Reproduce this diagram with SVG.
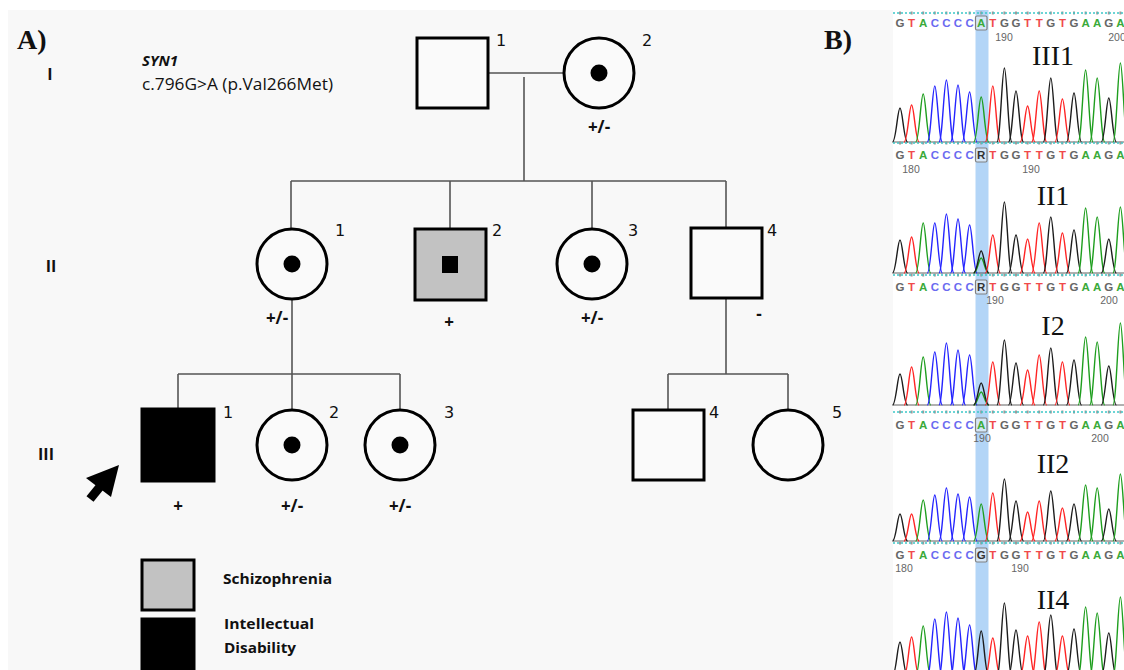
<svg xmlns="http://www.w3.org/2000/svg" xmlns:xlink="http://www.w3.org/1999/xlink" width="1124" height="670" viewBox="0 0 1124 670">
<style>
.sym{fill:#fafafa;stroke:#000;stroke-width:3}
.aff{fill:#000;stroke:#000;stroke-width:3}
.sch{fill:#c2c2c2;stroke:#000;stroke-width:3}
.ln{stroke:#555;stroke-width:1.6;fill:none}
.num{font-family:"DejaVu Sans",sans-serif;font-size:16px;fill:#111}
.gt{font-family:"Open Sans","Liberation Sans",sans-serif;font-weight:700;font-size:17px;fill:#111;text-anchor:middle}
.gen{font-family:"Open Sans","Liberation Sans",sans-serif;font-weight:700;font-size:16px;fill:#111;text-anchor:middle}
.leg{font-family:"Open Sans","Liberation Sans",sans-serif;font-weight:700;font-size:15px;fill:#111}
.pl{font-family:"Liberation Serif",serif;font-weight:700;font-size:28px;fill:#111}
.sl{font-family:"Liberation Serif",serif;font-size:28px;fill:#111;text-anchor:middle}
.seq{font-family:"Liberation Sans",sans-serif;font-weight:700;font-size:11.5px;text-anchor:middle}
.nb{font-family:"Liberation Sans",sans-serif;font-size:10.5px;fill:#666;text-anchor:middle}
.tk{fill:#666}.tr{fill:#f04a4a}.tg{fill:#3aaa3a}.tb{fill:#6a6af0}.tx{fill:#333}
use{fill:none;stroke-width:1.4}
.k{stroke:#1c1c1c}.r{stroke:#ff2424}.g{stroke:#1e9e1e}.b{stroke:#2424ff}
.cy{stroke:#3cc8c8;stroke-width:1.5;stroke-dasharray:2 2}
.tick{stroke:#9a9a9a;stroke-width:3;stroke-dasharray:2 9.6}
.bl{stroke:#222;stroke-width:1;opacity:.7}
.hb{fill:#d4e6f8;stroke:#808080;stroke-width:1.2}
</style>
<defs>
<path id="pk" d="M-7.5,0 C-4,0 -2.4,-1 0,-1 C2.4,-1 4,0 7.5,0" vector-effect="non-scaling-stroke"/>
</defs>
<rect x="0" y="0" width="1124" height="670" fill="#fff"/>
<rect x="8" y="10" width="885" height="660" fill="#f8f8f8"/>
<rect x="893" y="10" width="231" height="660" fill="#fff"/>

<!-- Panel A texts -->
<text class="pl" x="17" y="49">A)</text>
<text class="pl" x="824" y="49">B)</text>
<text x="142" y="66" font-family="'Open Sans','Liberation Sans',sans-serif" font-size="15" font-weight="700" font-style="italic" fill="#111">SYN1</text>
<text x="142" y="90" font-family="'Open Sans','Liberation Sans',sans-serif" font-size="15.5" fill="#111" textLength="191" lengthAdjust="spacingAndGlyphs">c.796G&gt;A (p.Val266Met)</text>
<text class="gen" x="50" y="80">I</text>
<text class="gen" x="51" y="272">II</text>
<text class="gen" x="46" y="460">III</text>

<!-- connectors -->
<g id="connectors" class="ln">
<line x1="488" y1="73" x2="564" y2="73"/>
<line x1="524" y1="77" x2="524" y2="181"/>
<line x1="291" y1="181" x2="726" y2="181"/>
<line x1="291" y1="181" x2="291" y2="229"/>
<line x1="450" y1="181" x2="450" y2="229"/>
<line x1="592" y1="181" x2="592" y2="229"/>
<line x1="726" y1="181" x2="726" y2="228"/>
<line x1="292" y1="300" x2="292" y2="374"/>
<line x1="178" y1="374" x2="400" y2="374"/>
<line x1="178" y1="374" x2="178" y2="409"/>
<line x1="292" y1="374" x2="292" y2="410"/>
<line x1="400" y1="374" x2="400" y2="410"/>
<line x1="726" y1="298" x2="726" y2="374"/>
<line x1="668" y1="374" x2="788" y2="374"/>
<line x1="668" y1="374" x2="668" y2="410"/>
<line x1="788" y1="374" x2="788" y2="410"/>
</g>

<!-- Generation I -->
<g id="I1"><rect class="sym" x="417" y="38" width="71" height="70"/><text class="num" x="496" y="46">1</text></g>
<g id="I2"><circle class="sym" cx="599" cy="73" r="35"/><circle cx="599" cy="73" r="8.5" fill="#000"/><text class="num" x="642" y="46">2</text><text class="gt" x="599" y="133">+/-</text></g>

<!-- Generation II -->
<g id="II1"><circle class="sym" cx="292" cy="264" r="35"/><circle cx="292" cy="264" r="8.5" fill="#000"/><text class="num" x="335" y="236">1</text><text class="gt" x="277" y="324">+/-</text></g>
<g id="II2"><rect class="sch" x="415" y="229" width="71" height="71"/><rect x="442" y="256" width="16" height="17" fill="#000"/><text class="num" x="492" y="236">2</text><text class="gt" x="449" y="328">+</text></g>
<g id="II3"><circle class="sym" cx="592" cy="264" r="35"/><circle cx="592" cy="264" r="8.5" fill="#000"/><text class="num" x="628" y="236">3</text><text class="gt" x="592" y="324">+/-</text></g>
<g id="II4"><rect class="sym" x="691" y="228" width="71" height="70"/><text class="num" x="767" y="236">4</text><text class="gt" x="759" y="320">-</text></g>

<!-- Generation III -->
<g id="III1"><rect class="aff" x="142" y="409" width="72" height="72"/><text class="num" x="223" y="418">1</text><text class="gt" x="178" y="512">+</text></g>
<g id="III2"><circle class="sym" cx="292" cy="445" r="35"/><circle cx="292" cy="445" r="8.5" fill="#000"/><text class="num" x="329" y="418">2</text><text class="gt" x="292" y="512">+/-</text></g>
<g id="III3"><circle class="sym" cx="400" cy="445" r="35"/><circle cx="400" cy="445" r="8.5" fill="#000"/><text class="num" x="444" y="418">3</text><text class="gt" x="400" y="512">+/-</text></g>
<g id="III4"><rect class="sym" x="633" y="410" width="71" height="70"/><text class="num" x="709" y="418">4</text></g>
<g id="III5"><circle class="sym" cx="788" cy="445" r="35"/><text class="num" x="832" y="418">5</text></g>

<!-- proband arrow -->
<g id="proband-arrow">
<line x1="90" y1="499" x2="103" y2="483" stroke="#000" stroke-width="9"/>
<polygon points="119,465 86,478 111,497" fill="#000"/>
</g>

<!-- legend -->
<g id="legend">
<rect class="sch" x="142" y="560" width="52" height="50"/>
<text class="leg" x="223" y="584" textLength="109" lengthAdjust="spacingAndGlyphs">Schizophrenia</text>
<rect class="aff" x="142" y="619" width="52" height="60"/>
<text class="leg" x="224" y="629" textLength="90" lengthAdjust="spacingAndGlyphs">Intellectual</text>
<text class="leg" x="224" y="653" textLength="72" lengthAdjust="spacingAndGlyphs">Disability</text>
</g>

<!-- Panel B chromatograms -->
<g id="chromatograms">
<rect x="975.5" y="10" width="13" height="660" fill="#b3d5f7"/>

<!-- row 1 III1 -->
<line class="tick" x1="899" y1="13" x2="1124" y2="13"/>
<line class="cy" x1="893" y1="13" x2="1124" y2="13"/>
<rect class="hb" x="975.5" y="16" width="11.5" height="14" rx="1.5"/>
<text class="seq" y="27" x="900 911.6 923.2 934.8 946.4 958 969.6 981.2 992.8 1004.4 1016 1027.6 1039.2 1050.8 1062.4 1074 1085.6 1097.2 1108.8 1120.4"><tspan class="tk">G</tspan><tspan class="tr">T</tspan><tspan class="tg">A</tspan><tspan class="tb">CCCC</tspan><tspan class="tg">A</tspan><tspan class="tr">T</tspan><tspan class="tk">GG</tspan><tspan class="tr">TT</tspan><tspan class="tk">G</tspan><tspan class="tr">T</tspan><tspan class="tk">G</tspan><tspan class="tg">AA</tspan><tspan class="tk">G</tspan><tspan class="tg">A</tspan></text>
<text class="nb" x="1004" y="41">190</text><text class="nb" x="1117" y="41">200</text>
<text class="sl" x="1053" y="65">III1</text>
<line class="bl" x1="893" y1="142" x2="1124" y2="142"/>
<use href="#pk" class="k" transform="translate(900 142) scale(1 34)"/>
<use href="#pk" class="r" transform="translate(911.6 142) scale(1 37)"/>
<use href="#pk" class="g" transform="translate(923.2 142) scale(1 48)"/>
<use href="#pk" class="b" transform="translate(934.8 142) scale(1 56)"/>
<use href="#pk" class="b" transform="translate(946.4 142) scale(1 62)"/>
<use href="#pk" class="b" transform="translate(958 142) scale(1 57)"/>
<use href="#pk" class="b" transform="translate(969.6 142) scale(1 50)"/>
<use href="#pk" class="g" transform="translate(981.2 142) scale(1 45)"/>
<use href="#pk" class="r" transform="translate(992.8 142) scale(1 56)"/>
<use href="#pk" class="k" transform="translate(1004.4 142) scale(1 74)"/>
<use href="#pk" class="k" transform="translate(1016 142) scale(1 51)"/>
<use href="#pk" class="r" transform="translate(1027.6 142) scale(1 36)"/>
<use href="#pk" class="r" transform="translate(1039.2 142) scale(1 51)"/>
<use href="#pk" class="k" transform="translate(1050.8 142) scale(1 64)"/>
<use href="#pk" class="r" transform="translate(1062.4 142) scale(1 43)"/>
<use href="#pk" class="k" transform="translate(1074 142) scale(1 49)"/>
<use href="#pk" class="g" transform="translate(1085.6 142) scale(1 72)"/>
<use href="#pk" class="g" transform="translate(1097.2 142) scale(1 64)"/>
<use href="#pk" class="k" transform="translate(1108.8 142) scale(1 44)"/>
<use href="#pk" class="g" transform="translate(1120.4 142) scale(1 79)"/>

<!-- row 2 II1 -->
<line class="tick" x1="899" y1="143" x2="1124" y2="143"/>
<line class="cy" x1="893" y1="143" x2="1124" y2="143"/>
<rect class="hb" x="975.5" y="148" width="11.5" height="14" rx="1.5"/>
<text class="seq" y="159" x="900 911.6 923.2 934.8 946.4 958 969.6 981.2 992.8 1004.4 1016 1027.6 1039.2 1050.8 1062.4 1074 1085.6 1097.2 1108.8 1120.4"><tspan class="tk">G</tspan><tspan class="tr">T</tspan><tspan class="tg">A</tspan><tspan class="tb">CCCC</tspan><tspan class="tx">R</tspan><tspan class="tr">T</tspan><tspan class="tk">GG</tspan><tspan class="tr">TT</tspan><tspan class="tk">G</tspan><tspan class="tr">T</tspan><tspan class="tk">G</tspan><tspan class="tg">AA</tspan><tspan class="tk">G</tspan><tspan class="tg">A</tspan></text>
<text class="nb" x="911" y="173">180</text><text class="nb" x="1031" y="173">190</text>
<text class="sl" x="1053" y="205">II1</text>
<line class="bl" x1="893" y1="273" x2="1124" y2="273"/>
<use href="#pk" class="k" transform="translate(900 273) scale(1 33)"/>
<use href="#pk" class="r" transform="translate(911.6 273) scale(1 36)"/>
<use href="#pk" class="g" transform="translate(923.2 273) scale(1 50)"/>
<use href="#pk" class="b" transform="translate(934.8 273) scale(1 50)"/>
<use href="#pk" class="b" transform="translate(946.4 273) scale(1 59)"/>
<use href="#pk" class="b" transform="translate(958 273) scale(1 54)"/>
<use href="#pk" class="b" transform="translate(969.6 273) scale(1 48)"/>
<use href="#pk" class="g" transform="translate(981.2 273) scale(1 15)"/>
<use href="#pk" class="k" transform="translate(981.2 273) scale(1 22)"/>
<use href="#pk" class="r" transform="translate(992.8 273) scale(1 38)"/>
<use href="#pk" class="k" transform="translate(1004.4 273) scale(1 71)"/>
<use href="#pk" class="k" transform="translate(1016 273) scale(1 38)"/>
<use href="#pk" class="r" transform="translate(1027.6 273) scale(1 34)"/>
<use href="#pk" class="r" transform="translate(1039.2 273) scale(1 50)"/>
<use href="#pk" class="k" transform="translate(1050.8 273) scale(1 56)"/>
<use href="#pk" class="r" transform="translate(1062.4 273) scale(1 40)"/>
<use href="#pk" class="k" transform="translate(1074 273) scale(1 43)"/>
<use href="#pk" class="g" transform="translate(1085.6 273) scale(1 65)"/>
<use href="#pk" class="g" transform="translate(1097.2 273) scale(1 56)"/>
<use href="#pk" class="k" transform="translate(1108.8 273) scale(1 34)"/>
<use href="#pk" class="g" transform="translate(1120.4 273) scale(1 66)"/>

<!-- row 3 I2 -->
<line class="tick" x1="899" y1="275" x2="1124" y2="275"/>
<line class="cy" x1="893" y1="275" x2="1124" y2="275"/>
<rect class="hb" x="975.5" y="280" width="11.5" height="14" rx="1.5"/>
<text class="seq" y="291" x="900 911.6 923.2 934.8 946.4 958 969.6 981.2 992.8 1004.4 1016 1027.6 1039.2 1050.8 1062.4 1074 1085.6 1097.2 1108.8 1120.4"><tspan class="tk">G</tspan><tspan class="tr">T</tspan><tspan class="tg">A</tspan><tspan class="tb">CCCC</tspan><tspan class="tx">R</tspan><tspan class="tr">T</tspan><tspan class="tk">GG</tspan><tspan class="tr">TT</tspan><tspan class="tk">G</tspan><tspan class="tr">T</tspan><tspan class="tk">G</tspan><tspan class="tg">AA</tspan><tspan class="tk">G</tspan><tspan class="tg">A</tspan></text>
<text class="nb" x="995" y="304">190</text><text class="nb" x="1109" y="304">200</text>
<text class="sl" x="1053" y="335">I2</text>
<line class="bl" x1="893" y1="405" x2="1124" y2="405"/>
<use href="#pk" class="k" transform="translate(900 405) scale(1 31)"/>
<use href="#pk" class="r" transform="translate(911.6 405) scale(1 38)"/>
<use href="#pk" class="g" transform="translate(923.2 405) scale(1 48)"/>
<use href="#pk" class="b" transform="translate(934.8 405) scale(1 53)"/>
<use href="#pk" class="b" transform="translate(946.4 405) scale(1 62)"/>
<use href="#pk" class="b" transform="translate(958 405) scale(1 55)"/>
<use href="#pk" class="b" transform="translate(969.6 405) scale(1 50)"/>
<use href="#pk" class="g" transform="translate(981.2 405) scale(1 13)"/>
<use href="#pk" class="k" transform="translate(981.2 405) scale(1 22)"/>
<use href="#pk" class="r" transform="translate(992.8 405) scale(1 43)"/>
<use href="#pk" class="k" transform="translate(1004.4 405) scale(1 65)"/>
<use href="#pk" class="k" transform="translate(1016 405) scale(1 42)"/>
<use href="#pk" class="r" transform="translate(1027.6 405) scale(1 35)"/>
<use href="#pk" class="r" transform="translate(1039.2 405) scale(1 50)"/>
<use href="#pk" class="k" transform="translate(1050.8 405) scale(1 57)"/>
<use href="#pk" class="r" transform="translate(1062.4 405) scale(1 43)"/>
<use href="#pk" class="k" transform="translate(1074 405) scale(1 45)"/>
<use href="#pk" class="g" transform="translate(1085.6 405) scale(1 68)"/>
<use href="#pk" class="g" transform="translate(1097.2 405) scale(1 63)"/>
<use href="#pk" class="k" transform="translate(1108.8 405) scale(1 39)"/>
<use href="#pk" class="g" transform="translate(1120.4 405) scale(1 82)"/>

<!-- row 4 II2 -->
<line class="tick" x1="899" y1="412" x2="1124" y2="412"/>
<line class="cy" x1="893" y1="412" x2="1124" y2="412"/>
<rect class="hb" x="975.5" y="418" width="11.5" height="14" rx="1.5"/>
<text class="seq" y="429" x="900 911.6 923.2 934.8 946.4 958 969.6 981.2 992.8 1004.4 1016 1027.6 1039.2 1050.8 1062.4 1074 1085.6 1097.2 1108.8 1120.4"><tspan class="tk">G</tspan><tspan class="tr">T</tspan><tspan class="tg">A</tspan><tspan class="tb">CCCC</tspan><tspan class="tg">A</tspan><tspan class="tr">T</tspan><tspan class="tk">GG</tspan><tspan class="tr">TT</tspan><tspan class="tk">G</tspan><tspan class="tr">T</tspan><tspan class="tk">G</tspan><tspan class="tg">AA</tspan><tspan class="tk">G</tspan><tspan class="tg">A</tspan></text>
<text class="nb" x="982" y="442">190</text><text class="nb" x="1100" y="442">200</text>
<text class="sl" x="1053" y="473">II2</text>
<line class="bl" x1="893" y1="541" x2="1124" y2="541"/>
<use href="#pk" class="k" transform="translate(900 541) scale(1 27)"/>
<use href="#pk" class="r" transform="translate(911.6 541) scale(1 27)"/>
<use href="#pk" class="g" transform="translate(923.2 541) scale(1 41)"/>
<use href="#pk" class="b" transform="translate(934.8 541) scale(1 46)"/>
<use href="#pk" class="b" transform="translate(946.4 541) scale(1 53)"/>
<use href="#pk" class="b" transform="translate(958 541) scale(1 47)"/>
<use href="#pk" class="b" transform="translate(969.6 541) scale(1 44)"/>
<use href="#pk" class="g" transform="translate(981.2 541) scale(1 37)"/>
<use href="#pk" class="r" transform="translate(992.8 541) scale(1 48)"/>
<use href="#pk" class="k" transform="translate(1004.4 541) scale(1 62)"/>
<use href="#pk" class="k" transform="translate(1016 541) scale(1 40)"/>
<use href="#pk" class="r" transform="translate(1027.6 541) scale(1 29)"/>
<use href="#pk" class="r" transform="translate(1039.2 541) scale(1 40)"/>
<use href="#pk" class="k" transform="translate(1050.8 541) scale(1 50)"/>
<use href="#pk" class="r" transform="translate(1062.4 541) scale(1 33)"/>
<use href="#pk" class="k" transform="translate(1074 541) scale(1 37)"/>
<use href="#pk" class="g" transform="translate(1085.6 541) scale(1 56)"/>
<use href="#pk" class="g" transform="translate(1097.2 541) scale(1 53)"/>
<use href="#pk" class="k" transform="translate(1108.8 541) scale(1 32)"/>
<use href="#pk" class="g" transform="translate(1120.4 541) scale(1 67)"/>

<!-- row 5 II4 -->
<line class="tick" x1="899" y1="543" x2="1124" y2="543"/>
<line class="cy" x1="893" y1="543" x2="1124" y2="543"/>
<rect class="hb" x="975.5" y="548" width="11.5" height="14" rx="1.5"/>
<text class="seq" y="559" x="900 911.6 923.2 934.8 946.4 958 969.6 981.2 992.8 1004.4 1016 1027.6 1039.2 1050.8 1062.4 1074 1085.6 1097.2 1108.8 1120.4"><tspan class="tk">G</tspan><tspan class="tr">T</tspan><tspan class="tg">A</tspan><tspan class="tb">CCCC</tspan><tspan class="tx">G</tspan><tspan class="tr">T</tspan><tspan class="tk">GG</tspan><tspan class="tr">TT</tspan><tspan class="tk">G</tspan><tspan class="tr">T</tspan><tspan class="tk">G</tspan><tspan class="tg">AA</tspan><tspan class="tk">G</tspan><tspan class="tg">A</tspan></text>
<text class="nb" x="904" y="572">180</text><text class="nb" x="1020" y="572">190</text>
<text class="sl" x="1053" y="609">II4</text>
<use href="#pk" class="k" transform="translate(900 676) scale(1 34)"/>
<use href="#pk" class="r" transform="translate(911.6 676) scale(1 39)"/>
<use href="#pk" class="g" transform="translate(923.2 676) scale(1 50)"/>
<use href="#pk" class="b" transform="translate(934.8 676) scale(1 57)"/>
<use href="#pk" class="b" transform="translate(946.4 676) scale(1 64)"/>
<use href="#pk" class="b" transform="translate(958 676) scale(1 58)"/>
<use href="#pk" class="b" transform="translate(969.6 676) scale(1 51)"/>
<use href="#pk" class="k" transform="translate(981.2 676) scale(1 45)"/>
<use href="#pk" class="r" transform="translate(992.8 676) scale(1 38)"/>
<use href="#pk" class="k" transform="translate(1004.4 676) scale(1 73)"/>
<use href="#pk" class="k" transform="translate(1016 676) scale(1 46)"/>
<use href="#pk" class="r" transform="translate(1027.6 676) scale(1 40)"/>
<use href="#pk" class="r" transform="translate(1039.2 676) scale(1 54)"/>
<use href="#pk" class="k" transform="translate(1050.8 676) scale(1 61)"/>
<use href="#pk" class="r" transform="translate(1062.4 676) scale(1 40)"/>
<use href="#pk" class="k" transform="translate(1074 676) scale(1 47)"/>
<use href="#pk" class="g" transform="translate(1085.6 676) scale(1 69)"/>
<use href="#pk" class="g" transform="translate(1097.2 676) scale(1 63)"/>
<use href="#pk" class="k" transform="translate(1108.8 676) scale(1 43)"/>
<use href="#pk" class="g" transform="translate(1120.4 676) scale(1 79)"/>
</g>
</svg>
